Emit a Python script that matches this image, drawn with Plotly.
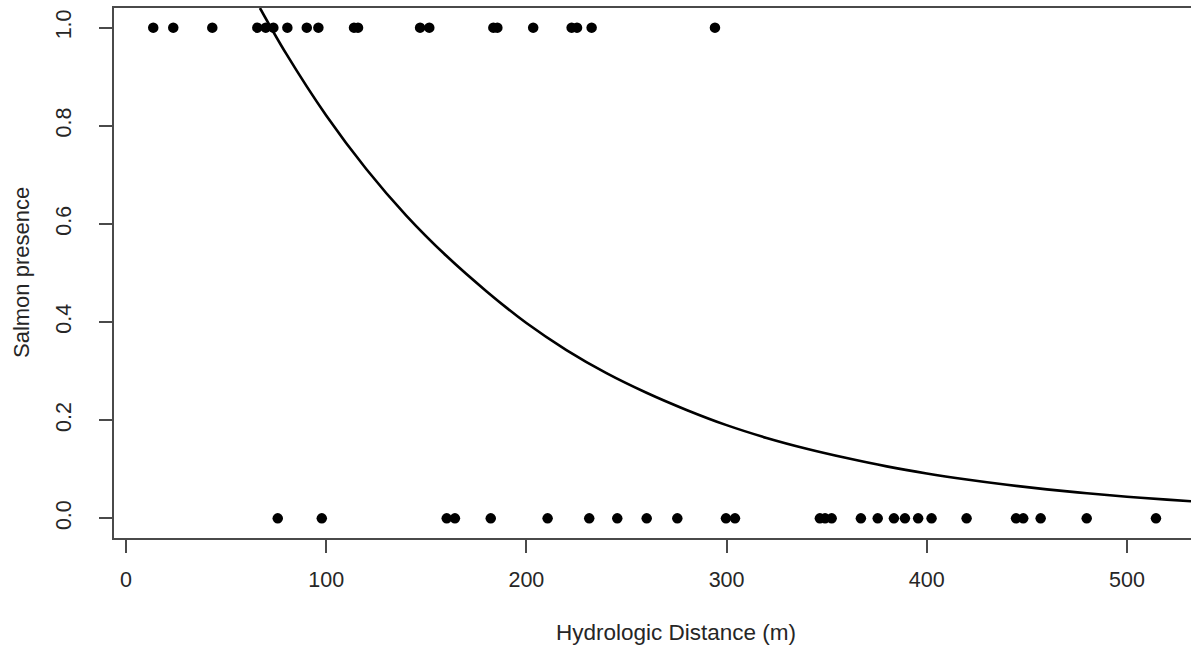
import plotly.graph_objects as go

# Sites where salmon were found (presence = 1), hydrologic distance in metres
present_dist = [13.6, 23.6, 43.1, 65.6, 69.8, 73.6, 80.6, 90.3, 96.1, 113.9,
                115.9, 146.9, 151.5, 183.5, 185.5, 203.4, 222.6, 225.3, 232.6, 294.2]

# Sites without salmon (presence = 0)
absent_dist = [75.8, 97.8, 160.2, 164.3, 182.2, 210.6, 231.4, 245.4, 260.1, 275.4,
               299.7, 304.2, 346.6, 349.2, 352.5, 367.1, 375.5, 383.6, 389.1, 395.7,
               402.4, 419.9, 444.6, 448.2, 456.9, 479.9, 514.5]

# Fitted probability of presence along the distance gradient
fit_dist = [66.9, 80, 100, 120, 140, 160, 180, 200, 220, 240, 260, 280, 300,
            320, 340, 360, 380, 400, 420, 440, 460, 480, 500, 520, 532]
fit_prob = [1.040, 0.947, 0.821, 0.712, 0.617, 0.535, 0.463, 0.398, 0.343, 0.296,
            0.256, 0.221, 0.190, 0.164, 0.142, 0.123, 0.106, 0.0916, 0.0792, 0.0684,
            0.0591, 0.0511, 0.0442, 0.0382, 0.0349]

x_ticks = [0, 100, 200, 300, 400, 500]
y_ticks = [0.0, 0.2, 0.4, 0.6, 0.8, 1.0]
y_tick_text = ["0.0", "0.2", "0.4", "0.6", "0.8", "1.0"]

FONT = "Liberation Sans, Arial, sans-serif"
TEXT = "#262626"
AXIS = "#4a4a4a"

fig = go.Figure()

fig.add_trace(go.Scatter(
    x=present_dist, y=[1] * len(present_dist), mode="markers",
    marker=dict(color="black", size=10.5), showlegend=False, hoverinfo="x+y"))
fig.add_trace(go.Scatter(
    x=absent_dist, y=[0] * len(absent_dist), mode="markers",
    marker=dict(color="black", size=10.5), showlegend=False, hoverinfo="x+y"))
fig.add_trace(go.Scatter(
    x=fit_dist, y=fit_prob, mode="lines",
    line=dict(color="black", width=2.6, shape="spline", smoothing=1.0),
    showlegend=False, hoverinfo="skip"))

fig.update_layout(
    width=1191, height=650,
    margin=dict(l=114, r=0, t=8, b=112, pad=0),
    paper_bgcolor="white", plot_bgcolor="white",
    font=dict(family=FONT, color=TEXT, size=21),
    xaxis=dict(
        range=[-6.0, 532.0], tickvals=x_ticks, ticks="outside", ticklen=13,
        tickwidth=1.5, tickcolor=AXIS, showline=True, linecolor=AXIS, linewidth=1.5,
        mirror=True, showgrid=False, zeroline=False,
        tickfont=dict(size=21.5, color=TEXT), ticklabelstandoff=8),
    yaxis=dict(
        range=[-0.04, 1.04], tickvals=y_ticks, ticktext=y_tick_text, tickangle=-90,
        ticks="outside", ticklen=13, tickwidth=1.5, tickcolor=AXIS,
        showline=True, linecolor=AXIS, linewidth=1.5, mirror=False,
        showgrid=False, zeroline=False,
        tickfont=dict(size=21.5, color=TEXT), ticklabelstandoff=20),
    annotations=[
        dict(text="Hydrologic Distance (m)", xref="paper", yref="paper",
             x=(676 - 114) / 1077, y=-(632 - 538) / 530, xanchor="center",
             yanchor="middle", showarrow=False, font=dict(size=22.5, color=TEXT)),
        dict(text="Salmon presence", xref="paper", yref="paper",
             x=-(114 - 21) / 1077, y=0.5, textangle=-90, xanchor="center",
             yanchor="middle", showarrow=False, font=dict(size=22, color=TEXT)),
    ],
)

fig.write_html("out.html")
